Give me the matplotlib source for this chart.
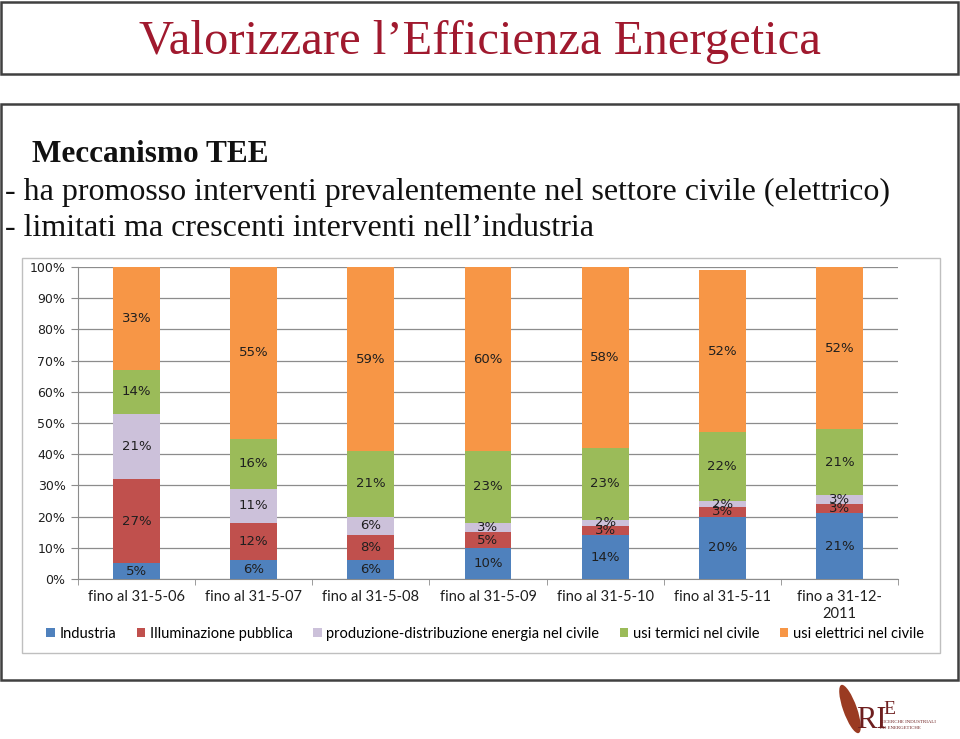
import matplotlib.pyplot as plt
from matplotlib.patches import Rectangle, Ellipse
import numpy as np

# data (percent shares, bottom to top)
categories = ['fino al 31-5-06', 'fino al 31-5-07', 'fino al 31-5-08', 'fino al 31-5-09',
              'fino al 31-5-10', 'fino al 31-5-11', 'fino a 31-12-\n2011']
industria = [5, 6, 6, 10, 14, 20, 21]
illuminazione = [27, 12, 8, 5, 3, 3, 3]
produzione = [21, 11, 6, 3, 2, 2, 3]
usi_termici = [14, 16, 21, 23, 23, 22, 21]
usi_elettrici = [33, 55, 59, 60, 58, 52, 52]

series_names = ['Industria', 'Illuminazione pubblica', 'produzione-distribuzione energia nel civile',
                'usi termici nel civile', 'usi elettrici nel civile']
series_colors = ['#4F81BD', '#C0504D', '#CCC1DA', '#9BBB59', '#F79646']

W, H = 960, 739


def fx(x):
    return x / W


def fy(y):
    return 1 - y / H


fig = plt.figure(figsize=(W / 100, H / 100), dpi=100)
fig.patch.set_facecolor('white')

# frames
fig.patches.append(Rectangle((fx(1), fy(74)), fx(957), 72 / H, transform=fig.transFigure,
                             fill=False, edgecolor='#404040', linewidth=1.8))
fig.patches.append(Rectangle((fx(1), fy(680)), fx(957), 576 / H, transform=fig.transFigure,
                             fill=False, edgecolor='#404040', linewidth=1.8))
fig.patches.append(Rectangle((fx(22), fy(653)), fx(918), 395 / H, transform=fig.transFigure,
                             fill=False, edgecolor='#BFBFBF', linewidth=1.0))

# texts
serif = 'Liberation Serif'
fig.text(fx(480), fy(42), 'Valorizzare l\u2019Efficienza Energetica', ha='center', va='center',
         fontsize=35, color='#A0192E', family=serif)
fig.text(fx(32), fy(155), 'Meccanismo TEE', ha='left', va='center', fontsize=22.5,
         fontweight='bold', color='#111111', family=serif)
fig.text(fx(5), fy(192), '- ha promosso interventi prevalentemente nel settore civile (elettrico)',
         ha='left', va='center', fontsize=23, color='#111111', family=serif)
fig.text(fx(5), fy(229), '- limitati ma crescenti interventi nell\u2019industria',
         ha='left', va='center', fontsize=23, color='#111111', family=serif)

# chart
ax = fig.add_axes([fx(78), fy(579), (898 - 78) / W, (579 - 267) / H])
x = np.arange(len(categories))
bottom = np.zeros(len(categories))
handles = []
for vals, name, col in zip([industria, illuminazione, produzione, usi_termici, usi_elettrici],
                           series_names, series_colors):
    bars = ax.bar(x, vals, width=0.4, bottom=bottom, color=col, label=name, zorder=3)
    ax.bar_label(bars, labels=['%d%%' % v for v in vals], label_type='center',
                 fontsize=9.5, color='#1F1F1F', family='DejaVu Sans', zorder=4)
    handles.append(bars)
    bottom += np.array(vals)

ax.set_xlim(-0.5, len(categories) - 0.5)
ax.set_ylim(0, 100)
ax.set_yticks(np.arange(0, 101, 10))
ax.set_yticklabels(['%d%%' % v for v in range(0, 101, 10)], fontsize=9, color='#1F1F1F')
ax.yaxis.grid(True, color='#8C8C8C', linewidth=0.9, zorder=0)
ax.set_xticks(x)
ax.set_xticklabels(categories, family='Lato', fontsize=10.5, color='#1F1F1F', linespacing=1.3)
ax.set_xticks(np.arange(-0.5, len(categories)), minor=True)
ax.tick_params(axis='x', which='major', length=0, pad=8)
ax.tick_params(axis='x', which='minor', length=4, color='#8C8C8C')
ax.tick_params(axis='y', length=5, color='#8C8C8C', pad=4)
for s in ['top', 'right']:
    ax.spines[s].set_visible(False)
for s in ['left', 'bottom']:
    ax.spines[s].set_color('#8C8C8C')

fig.legend(handles=handles, loc='center', bbox_to_anchor=(fx(485), fy(634)), ncol=5,
           frameon=False, prop={'family': 'Lato', 'size': 10.5}, handlelength=0.6,
           handleheight=0.6, handletextpad=0.3, columnspacing=1.4)

# logo
fig.patches.append(Ellipse((fx(850), fy(709)), 14 / W, 50 / H, angle=15, transform=fig.transFigure,
                           facecolor='#9A3B22', edgecolor='none'))
fig.text(fx(856), fy(720), 'RI', ha='left', va='center', fontsize=22, color='#6E1F1F', family=serif)
fig.text(fx(883), fy(710), 'E', ha='left', va='center', fontsize=14, color='#6E1F1F', family=serif)
fig.text(fx(880), fy(722), 'RICERCHE INDUSTRIALI', ha='left', va='center', fontsize=3.5,
         color='#6E1F1F', family=serif)
fig.text(fx(880), fy(728), 'ED ENERGETICHE', ha='left', va='center', fontsize=3.5,
         color='#6E1F1F', family=serif)

fig.savefig('out.png', dpi=100)
